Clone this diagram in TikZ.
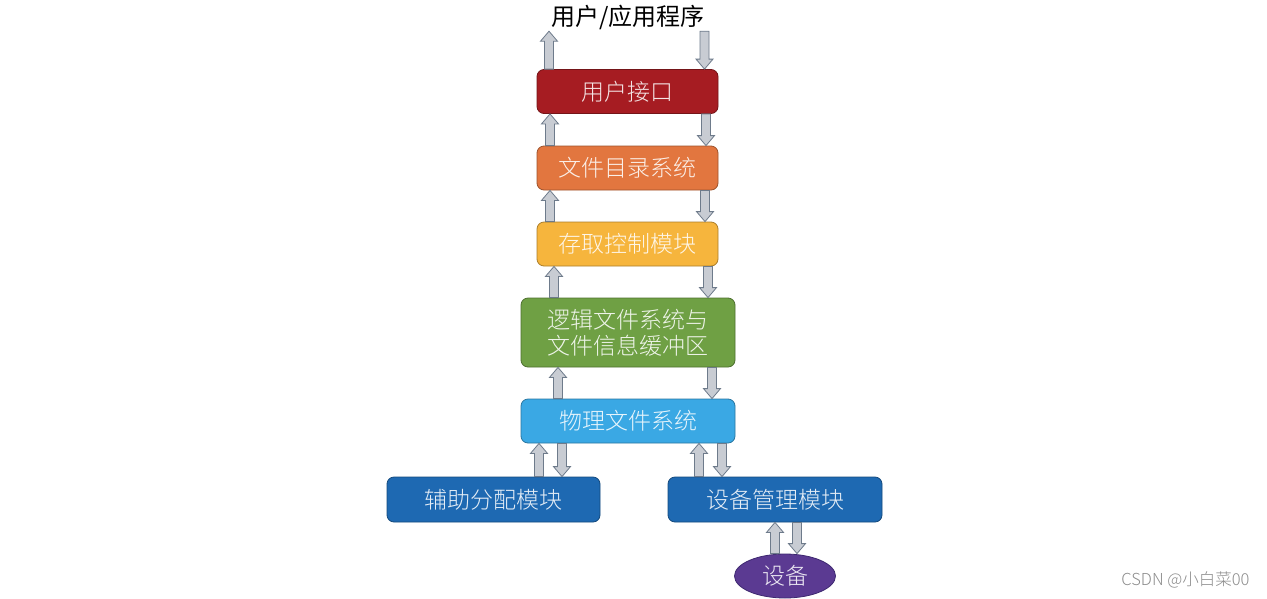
\documentclass[tikz,border=0pt]{standalone}
\usepackage{fontspec}
\newfontfamily\cjk{Noto Sans CJK SC}[UprightFont=* Light]
\newfontfamily\cjkr{Noto Sans CJK SC}
\usetikzlibrary{shapes.geometric,calc}
\definecolor{cred}{HTML}{A61C22}
\definecolor{cora}{HTML}{E2763F}
\definecolor{cyel}{HTML}{F6B53D}
\definecolor{cgrn}{HTML}{6FA044}
\definecolor{clbl}{HTML}{3AA8E4}
\definecolor{cblu}{HTML}{1E69B2}
\definecolor{cpur}{HTML}{5B3A92}\definecolor{bpur}{HTML}{3E2870}
\definecolor{afill}{HTML}{C8CCD3}\definecolor{aline}{HTML}{6E7B8B}
\tikzset{
  layer/.style={draw=#1!70!black, fill=#1, rounded corners=7pt, line width=0.8pt,
    text=white!88!#1, font=\cjk\fontsize{23}{26}\selectfont, align=center,
    inner sep=0pt, minimum width=181pt, minimum height=44pt},
  arrup/.style={draw=aline, fill=afill, line width=0.8pt,
    to path={let \p1=(\tikztostart), \p2=(\tikztotarget) in
      (\x1-4.5pt,\y1) -- (\x1-4.5pt,\y2-10pt) -- (\x1-8.5pt,\y2-10pt) -- (\x1,\y2)
      -- (\x1+8.5pt,\y2-10pt) -- (\x1+4.5pt,\y2-10pt) -- (\x1+4.5pt,\y1) -- cycle}},
  arrdown/.style={draw=aline, fill=afill, line width=0.8pt,
    to path={let \p1=(\tikztostart), \p2=(\tikztotarget) in
      (\x1-4.5pt,\y1) -- (\x1-4.5pt,\y2+10pt) -- (\x1-8.5pt,\y2+10pt) -- (\x1,\y2)
      -- (\x1+8.5pt,\y2+10pt) -- (\x1+4.5pt,\y2+10pt) -- (\x1+4.5pt,\y1) -- cycle}}
}
\begin{document}
\begin{tikzpicture}[x=1pt,y=-1pt]
\useasboundingbox[fill=white] (0,0) rectangle (1267,598);
\node[font=\cjkr\fontsize{24}{26}\selectfont, inner sep=0pt, minimum height=28pt] (top) at (628,17) {用户/应用程序};
\node[layer=cred] (ui) at (627.5,91.5) {用户接口};
\node[layer=cora] (dir) at (627.5,168) {文件目录系统};
\node[layer=cyel] (acc) at (627.5,244) {存取控制模块};
\node[layer=cgrn, minimum width=214pt, minimum height=69pt] (log) at (628,332.5) {逻辑文件系统与\\文件信息缓冲区};
\node[layer=clbl, minimum width=214pt] (phy) at (628,421) {物理文件系统};
\node[layer=cblu, minimum width=213pt, minimum height=45pt] (aux) at (493.5,499.5) {辅助分配模块};
\node[layer=cblu, minimum width=214pt, minimum height=45pt] (dev) at (775,499.5) {设备管理模块};
\node[ellipse, draw=bpur, fill=cpur, line width=0.8pt, inner sep=0pt, minimum width=101pt, minimum height=44pt,
  text=white!88!cpur, font=\cjk\fontsize{23}{26}\selectfont] (disk) at (785,576) {设备};
\node[font=\cjk\fontsize{16.5}{18}\selectfont, text=black!45, anchor=east] (wm) at (1253,580) {CSDN @小白菜00};
% arrows
\draw[arrup] ([xshift=-78.5pt]ui.north) to (top.south);
\draw[arrdown] ([xshift=76.5pt]top.south) to (ui.north);
\draw[arrup] ([xshift=-77.5pt]dir.north) to (ui.south);
\draw[arrdown] ([xshift=78.5pt]ui.south) to (dir.north);
\draw[arrup] ([xshift=-77.5pt]acc.north) to (dir.south);
\draw[arrdown] ([xshift=77.5pt]dir.south) to (acc.north);
\draw[arrup] ([xshift=-74pt]log.north) to (acc.south);
\draw[arrdown] ([xshift=80.5pt]acc.south) to (log.north);
\draw[arrup] ([xshift=-70pt]phy.north) to (log.south);
\draw[arrdown] ([xshift=84pt]log.south) to (phy.north);
\draw[arrup] ([xshift=45.5pt]aux.north) to (phy.south);
\draw[arrdown] ([xshift=-66pt]phy.south) to (aux.north);
\draw[arrup] ([xshift=-76pt]dev.north) to (phy.south);
\draw[arrdown] ([xshift=94pt]phy.south) to (dev.north);
\draw[arrup] ([xshift=-10pt]disk.north) to (dev.south);
\draw[arrdown] ([xshift=22pt]dev.south) to (disk.north);
\end{tikzpicture}
\end{document}
